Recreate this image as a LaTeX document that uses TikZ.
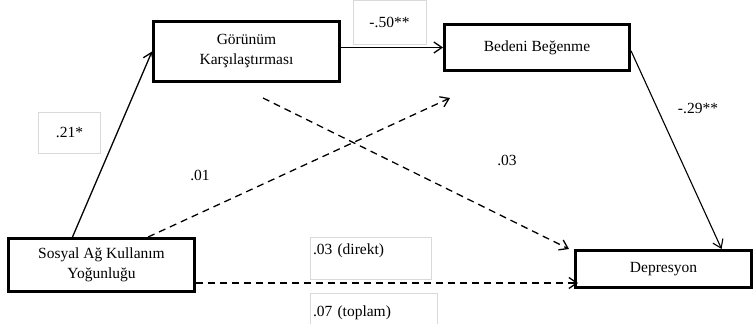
\documentclass[tikz,border=0pt]{standalone}
\usepackage{fontspec}
\setmainfont{Liberation Serif}
\usetikzlibrary{arrows.meta}

\begin{document}
\begin{tikzpicture}[x=1pt,y=-1pt,
 >={Straight Barb[length=8pt,width=11pt]},
 box/.style={draw,line width=3pt,align=center,inner sep=0pt,font=\fontsize{15.5}{20}\selectfont},
 lbl/.style={draw=gray!30,thin,inner sep=3pt,font=\fontsize{15.5}{20}\selectfont},
 txt/.style={inner sep=0pt,font=\fontsize{15.5}{20}\selectfont},
 dsh/.style={dash pattern=on 7pt off 5pt}]
 \useasboundingbox (0,0) rectangle (753,324);

 % variables
 \node (gorunum) at (246.5,51.5)[box,minimum width=186pt,minimum height=60pt]{Görünüm\\Karşılaştırması};
 \node (bedeni) at (537,47.5)[box,minimum width=185pt,minimum height=46pt]{Bedeni Beğenme};
 \node (sosyal) at (101.5,265)[box,minimum width=186pt,minimum height=53pt]{Sosyal Ağ Kullanım\\Yoğunluğu};
 \node (depresyon) at (663.5,269)[box,minimum width=176pt,minimum height=37pt]{Depresyon};

 % coefficients
 \node (l21) at (69.5,132.5)[lbl,minimum width=62pt,minimum height=41pt]{.21*};
 \node (l50) at (389.5,22)[lbl,minimum width=73pt,minimum height=44pt]{-.50**};
 \node (l01) at (200,175)[txt]{.01};
 \node (l03) at (507,160)[txt]{.03};
 \node (l29) at (698,108)[txt]{-.29**};
 \node (ldirekt) at (370.5,258)[lbl,text width=115pt,text height=14pt,text depth=22pt]{.03 (direkt)};
 \node (ltoplam) at (373.5,308.5)[lbl,text width=121pt,text height=20pt,text depth=5pt]{.07 (toplam)};

 % paths
 \coordinate (c1) at (263,98);
 \coordinate (c2) at (450,98);
 \coordinate (s1) at ([yshift=-18pt]sosyal.east);

 \draw[->,line width=1.3pt] (sosyal.136) -- (gorunum.west);
 \draw[->,line width=1.3pt] (gorunum.east |- bedeni.west) -- (bedeni.west);
 \draw[->,line width=1.1pt] (bedeni.-2) -- (depresyon.19);

 \draw[->,dsh,line width=1.3pt] (c1) -- ([xshift=-5pt]depresyon.north west);
 \draw[->,dsh,line width=1.3pt] (sosyal.31) -- (c2);
 \draw[->,dsh,line width=1.3pt,shorten >=-4pt] (s1) -- (s1 -| depresyon.west);

\end{tikzpicture}
\end{document}
